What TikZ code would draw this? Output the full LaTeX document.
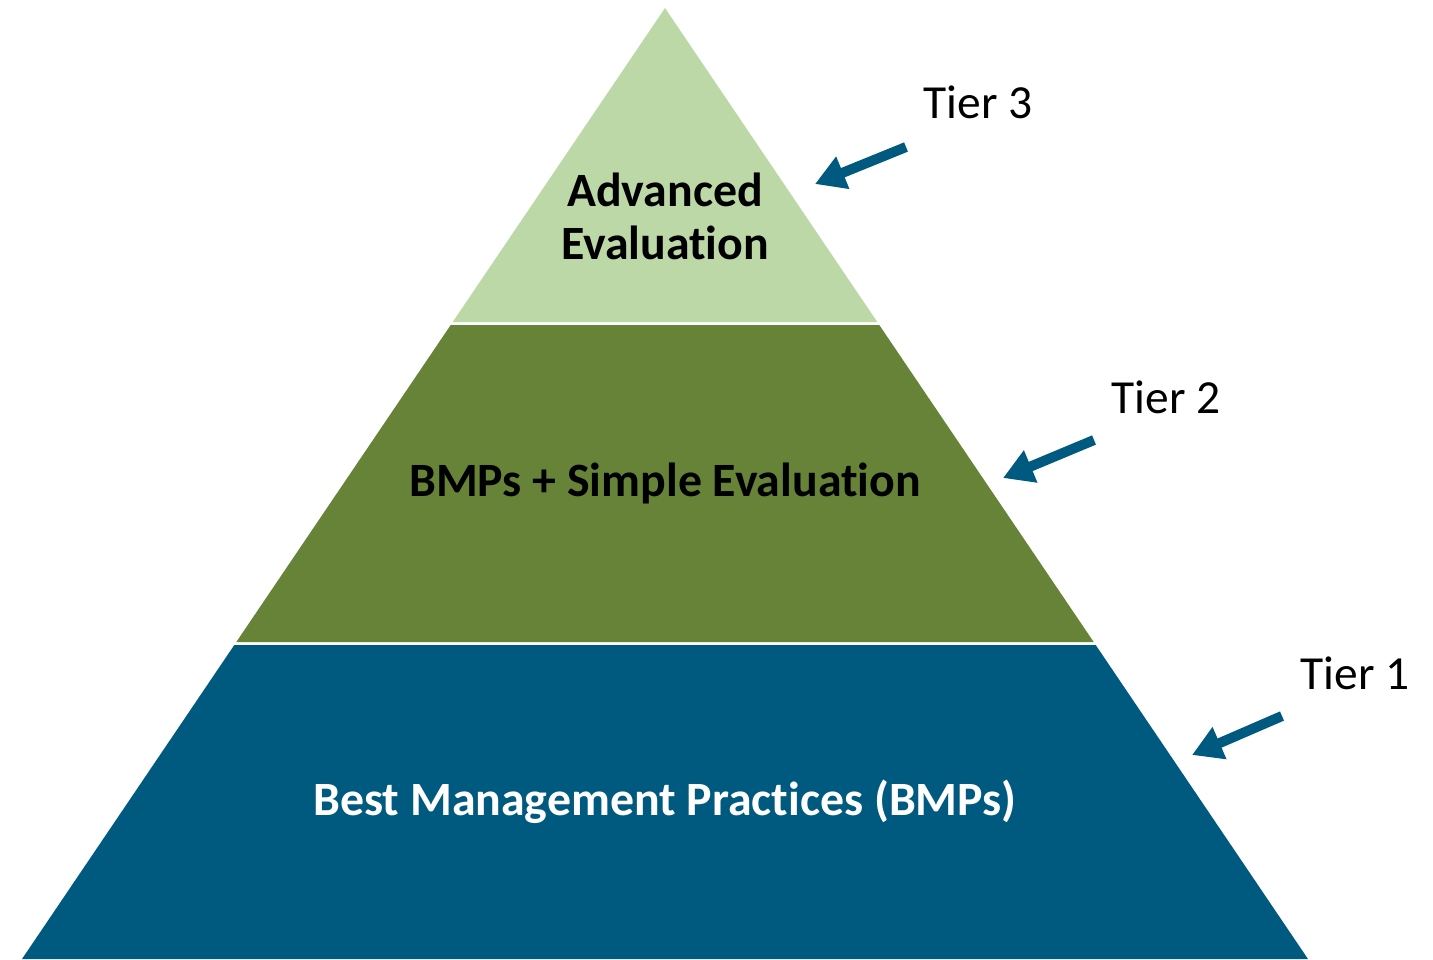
\documentclass[tikz,border=0pt]{standalone}
\usepackage{fontspec}
\setmainfont{Carlito}[Ligatures=NoCommon]
\usetikzlibrary{arrows.meta}
\definecolor{tiertop}{RGB}{189,216,167}
\definecolor{tiermid}{RGB}{103,131,55}
\definecolor{tierlow}{RGB}{0,90,128}
\definecolor{arrowblue}{RGB}{0,90,128}
\tikzset{
  tiertext/.style={font=\fontsize{13.6}{15}\selectfont\bfseries, align=center, inner sep=0pt},
  tiername/.style={font=\fontsize{13.5}{15}\selectfont, inner sep=0pt},
  tierarrow/.style={draw=arrowblue, line width=2.85pt, -{Triangle[length=3mm,width=3.3mm]}}
}

\begin{document}
\begin{tikzpicture}[x=0.01cm,y=-0.01cm]
        \useasboundingbox (0,0) rectangle (1433,959);
        % tier 1
        \fill[tierlow] (22,959) -- (1308,959) -- (1095.7,645) -- (234.3,645) -- cycle;
        % tier 2
        \fill[tiermid] (236.3,642) -- (1093.7,642) -- (879.3,325) -- (450.7,325) -- cycle;
        % tier 3
        \fill[tiertop] (452.7,322) -- (877.3,322) -- (665,8) -- cycle;

        % text
        \node[tiertext] (tier3) at (665,216) {Advanced\\Evaluation};
        \node[tiertext] (tier2) at (665,483) {BMPs + Simple Evaluation};
        \node[tiertext, text=white] (tier1) at (665,802) {Best Management Practices (BMPs)};

        % labels
        \node[tiername] (t3label) at (978,102) {Tier 3};
        \node[tiername] (t2label) at (1166,397) {Tier 2};
        \node[tiername] (t1label) at (1355,673) {Tier 1};

        % arrows
        \coordinate (t3from) at (906,147);
        \coordinate (t3to) at (815,184);
        \coordinate (t2from) at (1094,440);
        \coordinate (t2to) at (1003,478);
        \coordinate (t1from) at (1282,716);
        \coordinate (t1to) at (1192,755);
        \draw[tierarrow] (t3from) -- (t3to);
        \draw[tierarrow] (t2from) -- (t2to);
        \draw[tierarrow] (t1from) -- (t1to);
    \end{tikzpicture}
\end{document}
